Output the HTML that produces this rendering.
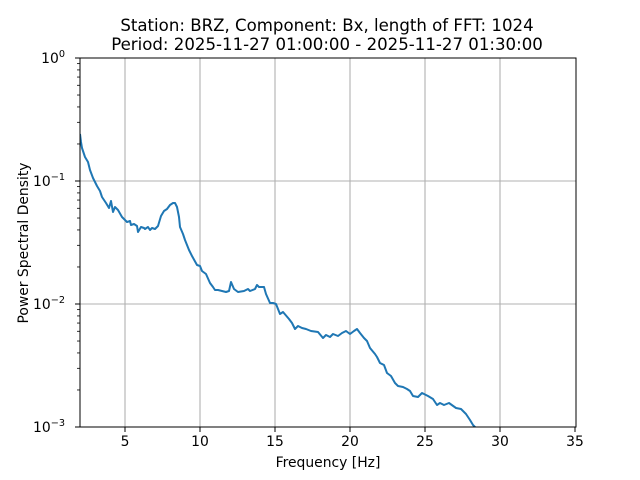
<!DOCTYPE html>
<html><head><meta charset="utf-8"><style>
body{margin:0;background:#fff}
svg{display:block;font-family:"DejaVu Sans","Liberation Sans",sans-serif}
</style></head><body>
<svg id="s" width="640" height="480" viewBox="0 0 640 480">
<rect width="640" height="480" fill="#fff"/>
<g stroke="#b0b0b0" stroke-width="1.1">
<line x1="125" y1="58" x2="125" y2="427"/><line x1="200" y1="58" x2="200" y2="427"/>
<line x1="275" y1="58" x2="275" y2="427"/><line x1="350" y1="58" x2="350" y2="427"/>
<line x1="425" y1="58" x2="425" y2="427"/><line x1="500" y1="58" x2="500" y2="427"/>
<line x1="80" y1="181" x2="576" y2="181"/><line x1="80" y1="304" x2="576" y2="304"/>
</g>
<clipPath id="c"><rect x="80" y="58" width="496" height="369"/></clipPath>
<polyline clip-path="url(#c)" fill="none" stroke="#1f77b4" stroke-width="2" stroke-linejoin="round" points="80,134 81,142 82,148 85,157 88,162 90,170 93,178 97,186 100,191 102,197 106,203 109,208 111,201 113,212 115,207 118,210 122,217 124,219 127,222 130,221 131,225 134,224 137,226 138,232 141,227 144,228 145,229 148,227 150,230 152,228 155,229 158,226 161,216 164,211 167,209 170,205 173,203 175,203 177,207 179,217 180,227 183,234 185,240 189,250 192,256 197,265 200,266 202,271 206,274 210,283 213,287 215,290 218,290 222,291 226,292 229,291 231,282 234,289 238,292 244,291 248,289 250,291 255,289 257,285 259,287 264,287 266,294 270,303 273,303 276,304 280,314 283,312 289,319 292,323 295,329 298,326 302,328 306,329 311,331 318,332 323,338 326,335 330,337 333,334 338,336 342,333 346,331 350,334 354,331 357,329 360,333 364,338 367,341 370,348 375,354 377,357 380,363 384,365 387,373 391,376 395,383 398,386 403,387 407,389 410,391 413,396 418,397 422,393 428,396 433,399 437,405 440,403 444,405 449,403 456,408 461,409 466,414 470,420 473,425 476,428"/>
<rect x="80" y="58" width="496" height="369" fill="none" stroke="#000" stroke-width="1"/>
<g id="ticks" stroke="#000" stroke-width="1"></g>
<g font-size="13.9" fill="#000" text-anchor="middle">
<text x="125" y="446">5</text><text x="200" y="446">10</text><text x="275" y="446">15</text>
<text x="350" y="446">20</text><text x="425" y="446">25</text><text x="500" y="446">30</text><text x="575" y="446">35</text>
<text x="328" y="467">Frequency [Hz]</text>
<text x="327" y="31" font-size="16.6">Station: BRZ, Component: Bx, length of FFT: 1024</text>
<text x="327" y="50" font-size="16.6">Period: 2025-11-27 01:00:00 - 2025-11-27 01:30:00</text>
</g>
<g font-size="13.9" fill="#000" text-anchor="end">
<text x="65" y="63">10<tspan font-size="9.7" dy="-6">0</tspan></text>
<text x="65" y="186">10<tspan font-size="9.7" dy="-6">−1</tspan></text>
<text x="65" y="309">10<tspan font-size="9.7" dy="-6">−2</tspan></text>
<text x="65" y="432">10<tspan font-size="9.7" dy="-6">−3</tspan></text>
</g>
<text transform="translate(28,243) rotate(-90)" font-size="13.9" text-anchor="middle">Power Spectral Density</text>
</svg>
<script>
var g=document.getElementById('ticks'),h='';
[125,200,275,350,425,500,575].forEach(function(x){h+='<line x1="'+x+'" y1="427" x2="'+x+'" y2="432"/>';});
[58,181,304,427].forEach(function(y){h+='<line x1="75" y1="'+y+'" x2="80" y2="'+y+'"/>';});
[427,304,181].forEach(function(b){for(var k=2;k<10;k++){var y=b-Math.log10(k)*123;h+='<line x1="77" y1="'+y+'" x2="80" y2="'+y+'" stroke-width="0.8"/>';}});
g.innerHTML=h;
</script>
</body></html>
